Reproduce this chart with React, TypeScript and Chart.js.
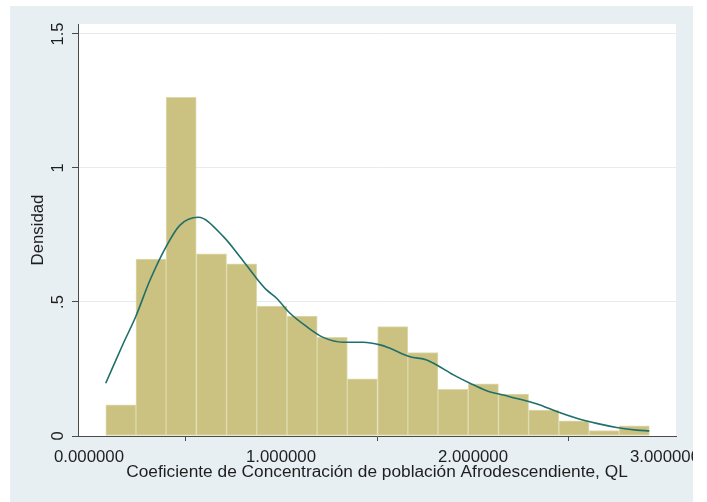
import React, { useEffect, useRef } from "react";
import { Chart, registerables } from "chart.js";

Chart.register(...registerables);

const binCenters = [0.166, 0.323, 0.48, 0.638, 0.795, 0.952, 1.11, 1.267, 1.424, 1.582, 1.739, 1.896, 2.054, 2.211, 2.368, 2.526, 2.683, 2.84];
const binDensity = [0.116, 0.66, 1.264, 0.68, 0.642, 0.485, 0.447, 0.368, 0.213, 0.408, 0.311, 0.174, 0.195, 0.156, 0.097, 0.057, 0.02, 0.038];

const kdeX = [0.087, 0.179, 0.243, 0.318, 0.401, 0.474, 0.569, 0.7, 0.786, 0.873, 0.925, 0.977, 1.047, 1.134, 1.22, 1.325, 1.429, 1.516, 1.568, 1.672, 1.759, 1.811, 1.898, 1.984, 2.071, 2.158, 2.245, 2.349, 2.436, 2.54, 2.644, 2.748, 2.853, 2.918];
const kdeY = [0.197, 0.346, 0.445, 0.582, 0.706, 0.787, 0.816, 0.744, 0.669, 0.588, 0.545, 0.514, 0.458, 0.408, 0.368, 0.35, 0.35, 0.34, 0.327, 0.296, 0.284, 0.265, 0.228, 0.197, 0.169, 0.153, 0.137, 0.116, 0.091, 0.066, 0.047, 0.032, 0.022, 0.019];

const yTickValues = [0, 0.5, 1, 1.5];
const yTickLabels = ["0", ".5", "1", "1.5"];
const xTickValues = [0, 1, 2, 3];
const xTickLabels = ["0.000000", "1.000000", "2.000000", "3.000000"];

const xTitle = "Coeficiente de Concentración de población Afrodescendiente, QL";
const yTitle = "Densidad";

const FONT = "'Liberation Sans', Arial, sans-serif";
const TEXT = "#1e1e1e";
const AXIS = "#4a4a4a";

export default function App() {
  const ref = useRef<HTMLCanvasElement | null>(null);

  useEffect(() => {
    const canvas = ref.current;
    if (!canvas) return;

    const plotBg = {
      id: "plotBg",
      beforeDraw(chart: any) {
        const { ctx, chartArea } = chart;
        ctx.save();
        ctx.fillStyle = "#ffffff";
        ctx.fillRect(chartArea.left, chartArea.top, chartArea.right - chartArea.left, chartArea.bottom - chartArea.top);
        ctx.restore();
      },
    };

    const yLabels = {
      id: "yLabels",
      afterDraw(chart: any) {
        const { ctx } = chart;
        const ys = chart.scales.y;
        ctx.save();
        ctx.fillStyle = TEXT;
        ctx.font = `16.5px ${FONT}`;
        ctx.textAlign = "center";
        ctx.textBaseline = "middle";
        ys.ticks.forEach((t: any) => {
          const i = yTickValues.findIndex((v) => Math.abs(v - t.value) < 1e-6);
          if (i < 0) return;
          const py = ys.getPixelForValue(t.value);
          ctx.save();
          ctx.translate(48.3, py);
          ctx.rotate(-Math.PI / 2);
          ctx.fillText(yTickLabels[i], 0, 0);
          ctx.restore();
        });
        ctx.restore();
      },
    };

    const chart = new Chart(canvas, {
      type: "bar",
      data: {
        datasets: [
          {
            type: "line",
            label: "kdensity",
            data: kdeX.map((x, i) => ({ x, y: kdeY[i] })),
            borderColor: "#1f6f6a",
            borderWidth: 1.6,
            pointRadius: 0,
            cubicInterpolationMode: "monotone",
            fill: false,
            order: 0,
          } as any,
          {
            type: "bar",
            label: "Densidad",
            data: binCenters.map((x, i) => ({ x, y: binDensity[i] })),
            backgroundColor: "#cbc281",
            borderColor: "#dedaae",
            borderWidth: 1,
            borderSkipped: false,
            categoryPercentage: 1,
            barPercentage: 1,
            order: 1,
          } as any,
        ],
      },
      options: {
        animation: false,
        responsive: false,
        devicePixelRatio: 1,
        layout: { padding: { top: 18, right: 17, left: 0, bottom: 0 } },
        plugins: { legend: { display: false }, tooltip: { enabled: false } },
        scales: {
          x: {
            type: "linear",
            min: -0.0573,
            max: 3.0573,
            offset: false,
            afterBuildTicks: (s: any) => {
              s.ticks = xTickValues.map((v) => ({ value: v }));
            },
            afterFit: (s: any) => {
              s.height = 66;
              s.paddingLeft = 0;
              s.paddingRight = 0;
            },
            ticks: {
              callback: (v: any) => {
                const i = xTickValues.findIndex((t) => Math.abs(t - v) < 1e-6);
                return i >= 0 ? xTickLabels[i] : "";
              },
              color: TEXT,
              font: { size: 16.8, family: FONT, lineHeight: 1.2 },
              padding: 6,
              maxRotation: 0,
              minRotation: 0,
              autoSkip: false,
            },
            grid: {
              drawOnChartArea: false,
              drawTicks: true,
              tickLength: 5,
              tickColor: AXIS,
              tickWidth: 1,
            },
            border: { display: true, color: AXIS, width: 1 },
            title: {
              display: true,
              text: xTitle,
              color: TEXT,
              font: { size: 17.3, family: FONT, lineHeight: 1.2 },
              padding: { top: 0, bottom: 19.6 },
            },
          },
          y: {
            type: "linear",
            min: 0,
            max: 1.5373,
            afterBuildTicks: (s: any) => {
              s.ticks = yTickValues.map((v) => ({ value: v }));
            },
            afterFit: (s: any) => {
              s.width = 68;
              s.paddingTop = 0;
              s.paddingBottom = 0;
            },
            ticks: { display: false },
            grid: {
              color: "#e4eced",
              lineWidth: 1,
              drawTicks: true,
              tickLength: 6,
              tickColor: AXIS,
              tickWidth: 1,
            },
            border: { display: true, color: AXIS, width: 1 },
            title: {
              display: true,
              text: yTitle,
              color: TEXT,
              font: { size: 16.8, family: FONT, lineHeight: 1.2 },
              padding: { top: 18.4, bottom: 0 },
            },
          },
        },
      } as any,
      plugins: [plotBg, yLabels],
    });

    return () => chart.destroy();
  }, []);

  return (
    <div
      style={{
        position: "absolute",
        left: 10,
        top: 6,
        width: 683,
        height: 496,
        background: "#e8eff2",
        overflow: "hidden",
      }}
    >
      <canvas ref={ref} width={683} height={496} style={{ display: "block", width: 683, height: 496 }} />
    </div>
  );
}
